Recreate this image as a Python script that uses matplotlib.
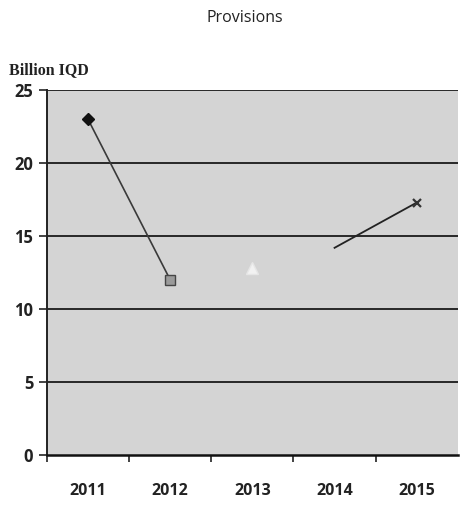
import matplotlib
matplotlib.use("Agg")
import matplotlib.pyplot as plt
import numpy as np

years = ["2011", "2012", "2013", "2014", "2015"]
provisions = [23.0, 12.0, 12.8, 14.2, 17.3]
y_ticks = [0, 5, 10, 15, 20, 25]

fig = plt.figure(figsize=(4.61, 5.07), dpi=100)
ax = fig.add_axes([0.102, 0.1026, 0.891, 0.7194])
ax.set_facecolor("#d4d4d4")

x = np.arange(len(years))
# segments as seen in the chart
ax.plot(x[0:2], provisions[0:2], color="#3a3a3a", lw=1.2, zorder=3)
ax.plot(x[3:5], provisions[3:5], color="#222222", lw=1.3, zorder=3)
# markers
ax.plot(x[0], provisions[0], marker="D", color="#111111", ms=6, ls="none", zorder=4)
ax.plot(x[1], provisions[1], marker="s", mfc="#9a9a9a", mec="#444444", ms=7, ls="none", zorder=4)
ax.plot(x[2], provisions[2], marker="^", mfc="#f2f2f2", mec="#e6e6e6", ms=8, ls="none", zorder=4)
ax.plot(x[4], provisions[4], marker="x", color="#333333", ms=6, mew=1.6, ls="none", zorder=4)

ax.set_xlim(-0.5, 4.5)
ax.set_ylim(0, 25)
ax.set_yticks(y_ticks)
ax.set_yticklabels([str(v) for v in y_ticks], fontsize=12, fontweight="bold", color="#222222",
                   family="Open Sans")
ax.set_xticks(np.arange(-0.5, 4.5, 1.0))
ax.set_xticklabels([])
ax.set_xticks(x, minor=True)
ax.set_xticklabels(years, minor=True, fontsize=11.5, fontweight="bold", color="#222222",
                   family="Open Sans")
ax.tick_params(axis="x", which="minor", length=0, pad=20)
ax.tick_params(axis="x", which="major", length=5, width=1.2, color="#222222")
ax.tick_params(axis="y", length=6, width=1.2, color="#222222", pad=4)

for v in y_ticks[1:]:
    ax.axhline(v, color="#1a1a1a", lw=1.3, zorder=2)

for s in ["top", "right"]:
    ax.spines[s].set_visible(False)
ax.spines["left"].set_color("#222222")
ax.spines["left"].set_linewidth(1.4)
ax.spines["bottom"].set_color("#111111")
ax.spines["bottom"].set_linewidth(1.8)

fig.text(0.53, 0.965, "Provisions", ha="center", va="center", fontsize=11.5, family="Open Sans",
         color="#222222")
fig.text(0.02, 0.862, "Billion IQD", ha="left", va="center", fontsize=11.5, fontweight="bold",
         family="Liberation Serif", color="#222222")

fig.savefig("out.png", dpi=100)
